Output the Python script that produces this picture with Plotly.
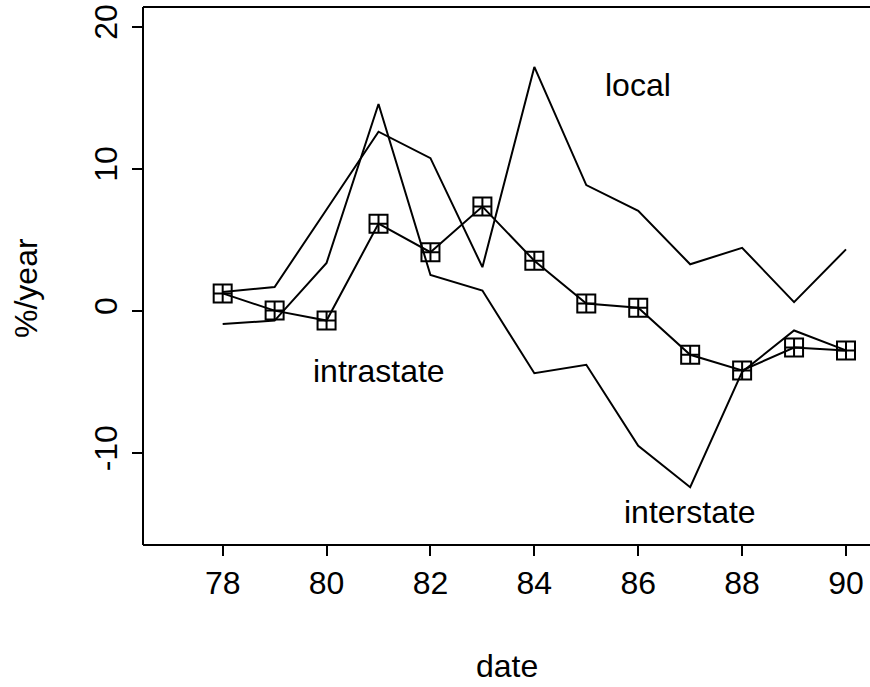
import plotly.graph_objects as go

years = [78, 79, 80, 81, 82, 83, 84, 85, 86, 87, 88, 89, 90]
total = [1.23, 0.02, -0.68, 6.14, 4.13, 7.34, 3.53, 0.52, 0.22, -3.09, -4.19, -2.58, -2.78]
local = [1.33, 1.68, 7.14, 12.61, 10.75, 3.08, 17.17, 8.85, 7.04, 3.28, 4.44, 0.62, 4.33]
interstate = [-0.93, -0.68, 3.38, 14.56, 2.53, 1.43, -4.39, -3.79, -9.50, -12.41, -4.29, -1.38, -2.78]

label_text = ["local", "intrastate", "interstate"]
label_x = [86.0, 81.0, 87.0]
label_y = [15.9, -4.22, -14.15]

x_ticks = [78, 80, 82, 84, 86, 88, 90]
x_ticktext = ["78", "80", "82", "84", "86", "88", "90"]
y_ticks = [-10, 0, 10, 20]
y_ticktext = ["-10", "0", "10", "20"]

FONT = "Liberation Sans, Arial, Helvetica, sans-serif"
FS = 32

W, H = 870, 687
L, T, B, R = 143, 7, 142, 0
PW, PH = W - L - R, H - T - B

fig = go.Figure()
for ys in (local, interstate):
    fig.add_trace(go.Scatter(x=years, y=ys, mode="lines",
                             line=dict(color="black", width=2), showlegend=False))
fig.add_trace(go.Scatter(x=years, y=total, mode="lines+markers",
                         line=dict(color="black", width=2),
                         marker=dict(symbol="square-cross-open", size=18,
                                     color="black", line=dict(width=2, color="black")),
                         showlegend=False))

for t, x, y in zip(label_text, label_x, label_y):
    fig.add_annotation(x=x, y=y, text=t, showarrow=False,
                       xanchor="center", yanchor="middle",
                       font=dict(family=FONT, size=FS, color="black"))

# axis titles
fig.add_annotation(xref="paper", yref="paper", x=(507 - L) / PW, y=(H - B - 666) / PH,
                   xanchor="center", yanchor="middle",
                   text="date", showarrow=False,
                   font=dict(family=FONT, size=FS, color="black"))
fig.add_annotation(xref="paper", yref="paper", x=(26 - L) / PW, y=(H - B - 288) / PH,
                   xanchor="center", yanchor="middle",
                   text="%/year", showarrow=False, textangle=-90,
                   font=dict(family=FONT, size=FS, color="black"))

# box lines (left, top, bottom)
for x0, y0, x1, y1 in [(0, 0, 0, 1), (0, 1, 1, 1), (0, 0, 1, 0)]:
    fig.add_shape(type="line", xref="paper", yref="paper", x0=x0, y0=y0, x1=x1, y1=y1,
                  line=dict(color="black", width=2))

fig.update_layout(
    width=W, height=H,
    margin=dict(l=L, r=R, t=T, b=B, pad=0),
    paper_bgcolor="white", plot_bgcolor="white",
    font=dict(family=FONT, size=FS, color="black"),
    xaxis=dict(range=[76.466, 90.462], tickvals=x_ticks, ticktext=x_ticktext,
               ticks="outside", ticklen=10, ticklabeloverflow="allow",
               tickwidth=1.5, tickcolor="black", showgrid=False, zeroline=False,
               showline=False, ticklabelstandoff=0),
    yaxis=dict(range=[-16.474, 21.386], tickvals=y_ticks, ticktext=y_ticktext,
               ticks="outside", ticklen=10, ticklabeloverflow="allow",
               tickwidth=1.5, tickcolor="black", showgrid=False, zeroline=False,
               showline=False, tickangle=-90, ticklabelstandoff=2),
)

fig.write_html(
    "out.html",
    config={"displayModeBar": False},
    post_script="document.body.style.margin='0';document.body.style.overflow='hidden';",
)
